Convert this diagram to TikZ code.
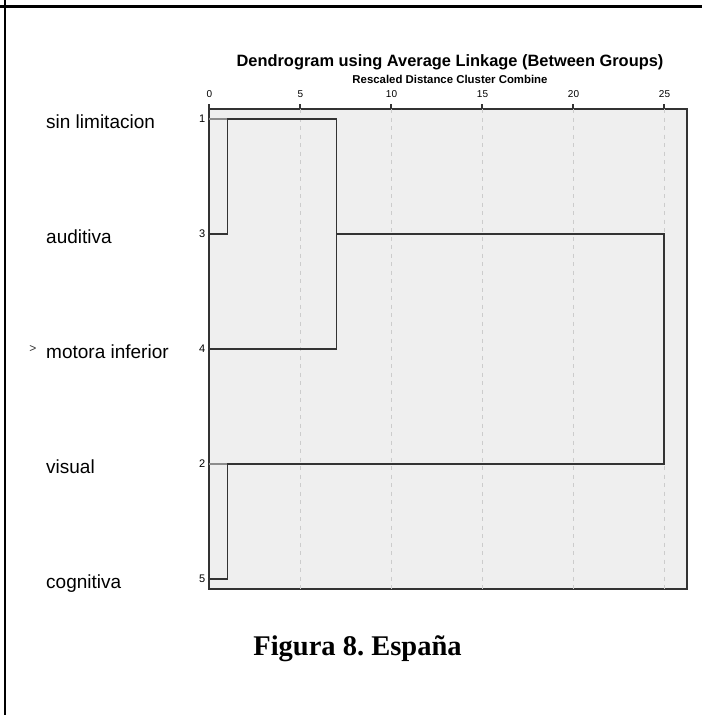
\documentclass[tikz,border=0pt]{standalone}
\usepackage{fontspec}
\setmainfont{Liberation Sans}
\newfontfamily\capfont{Liberation Serif}
\definecolor{plotbg}{HTML}{EFEFEF}
\definecolor{gridgray}{HTML}{CCCCCC}
\definecolor{treegray}{HTML}{333333}
\definecolor{stubgray}{HTML}{8C8C8C}

\begin{document}
\frenchspacing
\begin{tikzpicture}[x=1pt,y=-1pt,
    leaf/.style={anchor=base west,inner sep=0pt,font=\fontsize{19}{21}\selectfont},
    rownum/.style={anchor=east,inner sep=0pt,font=\fontsize{11}{12}\selectfont},
    ticklabel/.style={anchor=base,inner sep=0pt,font=\fontsize{10}{11}\selectfont},
    gridline/.style={color=gridgray,line width=0.9pt,dash pattern=on 4pt off 4.5pt},
    tree/.style={color=treegray,line width=1.3pt},
    stub/.style={color=stubgray,line width=1.3pt}]
    \useasboundingbox (0,0) rectangle (702,715);

    % page frame
    \draw[line width=2.5pt] (0,6.5) -- (702,6.5);
    \draw[line width=2.5pt] (5,0) -- (5,715);

    % titles
    \node[inner sep=0pt,anchor=base,font=\bfseries\fontsize{16.4}{18}\selectfont]
        (title) at (450,66.7) {Dendrogram using Average Linkage (Between Groups)};
    \node[inner sep=0pt,anchor=base,font=\bfseries\fontsize{11.4}{12}\selectfont]
        (subtitle) at (450,83) {Rescaled Distance Cluster Combine};

    % plot area
    \filldraw[fill=plotbg,draw=treegray,line width=1.3pt] (209,109) rectangle (687,589);
    \draw[gridline] (300,109) -- (300,589);
    \draw[gridline] (391,109) -- (391,589);
    \draw[gridline] (482,109) -- (482,589);
    \draw[gridline] (573,109) -- (573,589);
    \draw[gridline] (664,109) -- (664,589);

    % axis ticks
    \draw[tree] (209,104) -- (209,109);
    \draw[tree] (300,104) -- (300,109);
    \draw[tree] (391,104) -- (391,109);
    \draw[tree] (482,104) -- (482,109);
    \draw[tree] (573,104) -- (573,109);
    \draw[tree] (664,104) -- (664,109);
    \node[ticklabel] (t0) at (209.5,97.3) {0};
    \node[ticklabel] (t5) at (300.5,97.3) {5};
    \node[ticklabel] (t10) at (391.5,97.3) {10};
    \node[ticklabel] (t15) at (482.5,97.3) {15};
    \node[ticklabel] (t20) at (573.5,97.3) {20};
    \node[ticklabel] (t25) at (664.5,97.3) {25};

    % leaves
    \coordinate (r1) at (209,119);
    \coordinate (r3) at (209,234);
    \coordinate (r4) at (209,349);
    \coordinate (r2) at (209,464);
    \coordinate (r5) at (209,579);

    \node[leaf] (sin) at (46,128.5) {sin limitacion};
    \node[leaf] (aud) at (46,243.5) {auditiva};
    \node[leaf] (mot) at (46,358.5) {motora inferior};
    \node[leaf] (vis) at (46,473.5) {visual};
    \node[leaf] (cog) at (46,588.5) {cognitiva};
    \node[inner sep=0pt,color=treegray,font=\fontsize{12}{12}\selectfont]
        (mark) at (33,349) {>};

    \node[rownum] (n1) at (205.5,119) {1};
    \node[rownum] (n3) at (205.5,234) {3};
    \node[rownum] (n4) at (205.5,349) {4};
    \node[rownum] (n2) at (205.5,464) {2};
    \node[rownum] (n5) at (205.5,579) {5};

    % merges
    \coordinate (m13) at (227.2,119);
    \coordinate (m134) at (336.4,119);
    \coordinate (m25) at (227.2,464);
    \coordinate (mall) at (664,234);

    \draw[stub] (r1) -- (m13);
    \draw[stub] (r2) -- (m25);
    \draw[tree] (r3) -| (m13) -- (m134) |- (r4);
    \draw[tree] (m134 |- r3) -- (mall) |- (m25) |- (r5);

    % caption
    \node[inner sep=0pt,anchor=base,font=\capfont\bfseries\fontsize{28.5}{30}\selectfont]
        (cap) at (357.5,655.7) {Figura 8. España};
\end{tikzpicture}
\end{document}
